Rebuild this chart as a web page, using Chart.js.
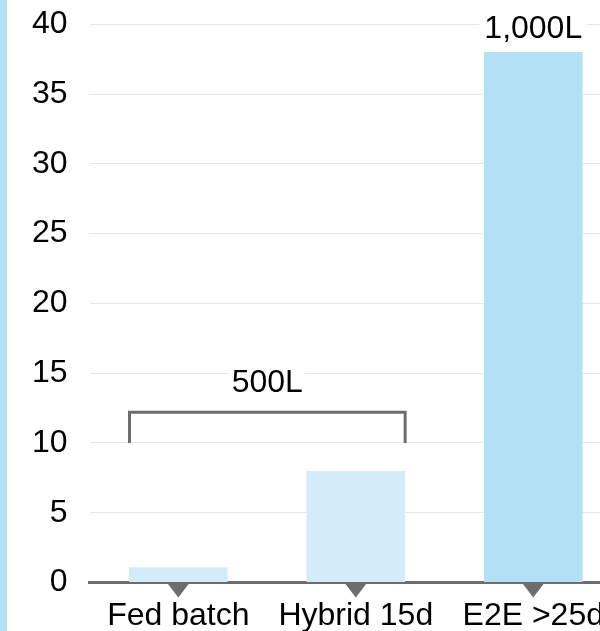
<!DOCTYPE html>
<html>
<head>
<meta charset="utf-8">
<script src="https://cdn.jsdelivr.net/npm/chart.js@4.4.0/dist/chart.umd.min.js"></script>
<style>
  html, body { margin: 0; padding: 0; overflow: hidden; background: #fff; }
  #stripe { position: absolute; left: 0; top: 0; width: 7px; height: 631px; background: #b3e0f5; }
  #scaleChart { position: absolute; left: 0; top: 0; }
</style>
</head>
<body>
<canvas id="scaleChart" width="622" height="649"></canvas>
<div id="stripe"></div>
<script>
const categories = ['Fed batch', 'Hybrid 15d', 'E2E >25d'];
const productivity = [1.1, 8, 38];
const barColors = ['#d4ecf9', '#d4ecf9', '#b3e0f5'];
const yMax = 40;
const yStep = 5;

// volume brackets / labels above the bars
const bracketBars = [0, 1];
const bracketLevels = [12.2, 10];   // top of bracket, bottom of its legs
const bracketLabel = '500L';
const topBarLabel = '1,000L';
const topBarIndex = 2;

const FONT = "'Liberation Sans', Arial, Helvetica, sans-serif";
const FONT_SIZE = 32;
const axisGrey = '#6d6d6d';

function labelWithBackground(ctx, text, x, baseline, pad) {
  ctx.font = FONT_SIZE + 'px ' + FONT;
  const w = ctx.measureText(text).width;
  ctx.fillStyle = '#ffffff';
  ctx.fillRect(x - w / 2 - pad, baseline - 26, w + pad * 2, 32);
  ctx.fillStyle = '#000000';
  ctx.textAlign = 'center';
  ctx.textBaseline = 'alphabetic';
  ctx.fillText(text, x, baseline);
}

const extras = {
  id: 'extras',
  afterDraw(chart) {
    const ctx = chart.ctx;
    const xs = chart.scales.x;
    const ys = chart.scales.y;
    const bars = chart.getDatasetMeta(0).data;
    const bottom = chart.chartArea.bottom;
    ctx.save();

    // little pointers under the axis line
    ctx.fillStyle = axisGrey;
    categories.forEach((c, i) => {
      const x = xs.getPixelForValue(i);
      ctx.beginPath();
      ctx.moveTo(x - 11.5, bottom);
      ctx.lineTo(x + 11.5, bottom);
      ctx.lineTo(x, bottom + 15);
      ctx.closePath();
      ctx.fill();
    });

    // bracket over the first two bars
    const b0 = bars[bracketBars[0]];
    const b1 = bars[bracketBars[1]];
    const x1 = b0.x - b0.width / 2 + 0.5;
    const x2 = b1.x + b1.width / 2;
    const yTop = ys.getPixelForValue(bracketLevels[0]);
    const yBot = ys.getPixelForValue(bracketLevels[1]);
    ctx.strokeStyle = axisGrey;
    ctx.lineWidth = 3;
    ctx.lineJoin = 'miter';
    ctx.beginPath();
    ctx.moveTo(x1, yBot);
    ctx.lineTo(x1, yTop);
    ctx.lineTo(x2, yTop);
    ctx.lineTo(x2, yBot);
    ctx.stroke();
    labelWithBackground(ctx, bracketLabel, (x1 + x2) / 2, yTop - 20, 2);

    // label over the tall bar
    const b2 = bars[topBarIndex];
    labelWithBackground(ctx, topBarLabel, b2.x, b2.y - 14, 5);

    ctx.restore();
  }
};

new Chart(document.getElementById('scaleChart'), {
  type: 'bar',
  data: {
    labels: categories,
    datasets: [{
      data: productivity,
      backgroundColor: barColors,
      borderWidth: 0,
      categoryPercentage: 1,
      barPercentage: 0.556
    }]
  },
  options: {
    responsive: false,
    animation: false,
    events: [],
    layout: { padding: { left: 27, top: 8, right: 0, bottom: 0 } },
    plugins: { legend: { display: false }, tooltip: { enabled: false } },
    scales: {
      x: {
        z: 1,
        grid: { display: false, drawTicks: false },
        border: { display: true, color: axisGrey, width: 3 },
        ticks: { color: '#000', padding: 14, font: { family: FONT, size: FONT_SIZE } }
      },
      y: {
        min: 0,
        max: yMax,
        // invisible tick marks keep the labels clear of the plot without padding the top
        grid: { color: '#e6e6e6', lineWidth: 1, drawTicks: true, tickLength: 17, tickColor: 'rgba(0,0,0,0)' },
        border: { display: false },
        ticks: { stepSize: yStep, color: '#000', padding: 5, font: { family: FONT, size: FONT_SIZE } }
      }
    }
  },
  plugins: [extras]
});
</script>
</body>
</html>
